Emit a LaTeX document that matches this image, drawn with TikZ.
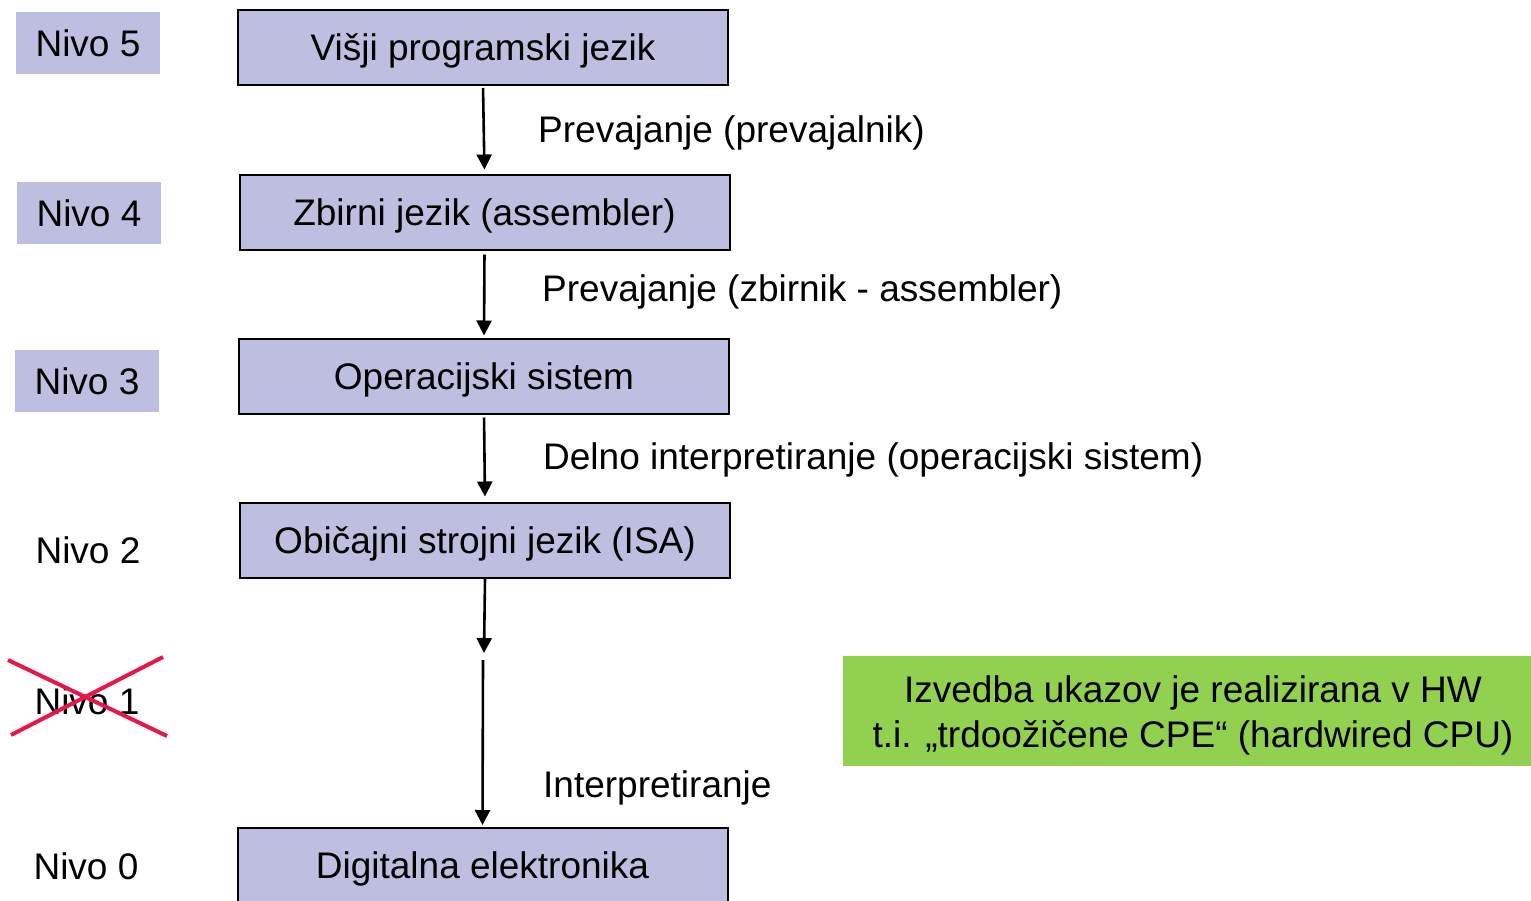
\documentclass[tikz,border=0pt]{standalone}
\usepackage{fontspec}
\setmainfont{Liberation Sans}
\usetikzlibrary{arrows.meta}
\definecolor{lav}{RGB}{190,190,224}
\definecolor{grn}{RGB}{146,208,80}
\definecolor{xred}{RGB}{232,22,74}
\begin{document}
\begin{tikzpicture}[x=1pt,y=-1pt,
  font=\fontsize{37}{45}\selectfont,
  box/.style={draw=black,line width=2pt,fill=lav,minimum width=490pt,minimum height=75pt,inner sep=0pt,text height=26.5pt,text depth=0pt},
  lvl/.style={fill=lav,minimum width=144pt,minimum height=62pt,inner sep=0pt,text height=26.5pt,text depth=0pt},
  lvlplain/.style={inner sep=0pt,text height=26.5pt,text depth=0pt},
  lbl/.style={anchor=base west,inner sep=0pt},
  arr/.style={line width=2.6pt,-{Triangle[width=15pt,length=15pt]}},
  xline/.style={draw=xred,line width=4pt}]
\useasboundingbox (0,0) rectangle (1531,900);
\clip (0,0) rectangle (1531,900);
% main boxes
\node[box] (b5) at (483,47.5) {Višji programski jezik};
\node[box] (b4) at (484.5,212) {Zbirni jezik (assembler)};
\node[box] (b3) at (484,376) {Operacijski sistem};
\node[box] (b2) at (485,540) {Običajni strojni jezik (ISA)};
\node[box] (b0) at (482.5,865.5) {Digitalna elektronika};
% level labels
\node[lvl] (n5) at (88,43) {Nivo 5};
\node[lvl] (n4) at (89,213) {Nivo 4};
\node[lvl] (n3) at (87,381) {Nivo 3};
\node[lvlplain] (n2) at (88,550) {Nivo 2};
\node[lvlplain] (n1) at (87,701) {Nivo 1};
\node[lvlplain] (n0) at (86,866) {Nivo 0};
% cross over Nivo 1
\draw[xline] (8,660) -- (167,736);
\draw[xline] (11,735) -- (163,657);
% arrows
\draw[arr,shorten <=2pt,shorten >=4pt] (b5.south) -- (b4.north);
\draw[arr,shorten <=4pt,shorten >=2pt] (b4.south) -- (b3.north);
\draw[arr,shorten <=3pt,shorten >=5pt] (b3.south) -- (b2.north);
\coordinate (m1) at (484,653);
\coordinate (m2) at (483,660);
\draw[arr] (b2.south) -- (m1);
\draw[arr,shorten >=2pt] (m2) -- (b0.north);
% arrow labels
\node[lbl] (t1) at (538,142) {Prevajanje (prevajalnik)};
\node[lbl] (t2) at (542,301) {Prevajanje (zbirnik - assembler)};
\node[lbl] (t3) at (543,469) {Delno interpretiranje (operacijski sistem)};
\node[lbl] (t4) at (543,797) {Interpretiranje};
% green note
\node[fill=grn,minimum width=700pt,minimum height=110pt,inner sep=0pt] (hw) at (1193,711) {};
\node[align=center,inner sep=0pt] (hwt) at (1193,715) {Izvedba ukazov je realizirana v HW\\t.i. „trdoožičene CPE“ (hardwired CPU)};
\end{tikzpicture}
\end{document}
